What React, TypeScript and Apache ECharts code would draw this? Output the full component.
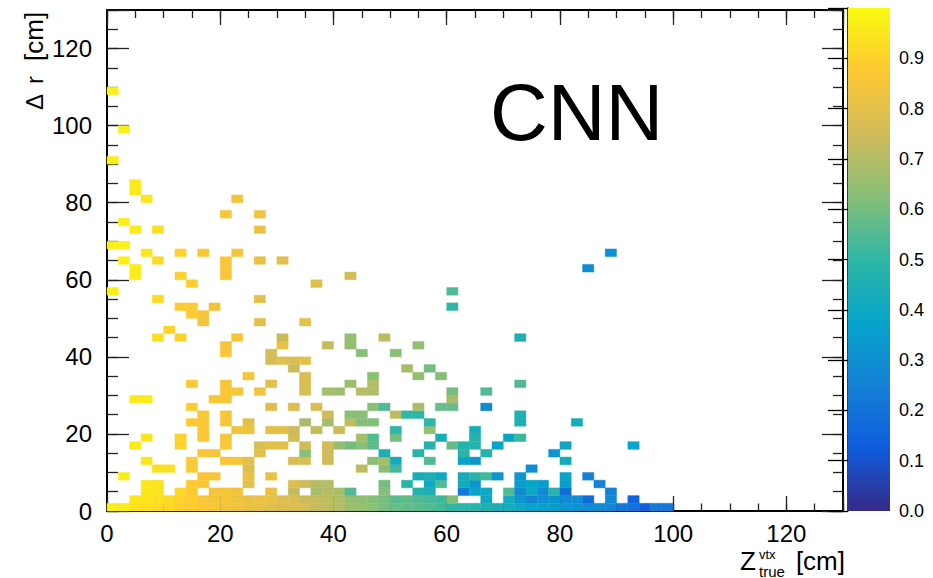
import React, { useEffect, useRef } from 'react';
import * as echarts from 'echarts';

// bin size in cm (both axes)
const binWidth = 2;
const axisMax = 130;
const majorStep = 20;
const minorStep = 5;
const colorTickStep = 0.1;

// ROOT kBird palette, value 0 -> 1
const palette = ['#352a87', '#0f5cdd', '#1481d6', '#06a4ca', '#2eb7a4', '#87bf77', '#d1bb59', '#fec832', '#f9fb0e'];

// rows of the 2D histogram: index = Δr bin (2 cm each); "zBin:value(×100)"
const rows: string[] = [
  '0:97 1:96 2:94 3:93 4:92 5:91 6:89 7:88 8:87 9:86 10:84 11:83 12:82 13:81 14:79 15:78 16:77 17:76 18:73 19:72 20:70 21:66 22:65 23:63 24:60 25:58 26:57 27:56 28:55 29:53 30:50 31:49 32:48 33:46 34:44 35:42 36:40 37:38 38:36 39:35 40:32 41:30 42:29 43:28 44:27 45:22 46:20 47:14 48:22 49:22',
  '2:95 3:95 4:93 5:92 6:90 7:89 8:86 9:85 10:85 11:83 12:82 13:82 14:81 15:78 16:78 17:74 18:73 19:72 20:70 21:65 22:64 23:62 24:60 25:56 26:57 27:55 28:54 29:52 30:62 33:40 35:42 36:32 37:25 38:30 39:32 40:28 41:30 42:18 44:28 46:15',
  '3:95 4:94 6:91 7:88 9:85 10:85 11:84 14:82 16:73 18:68 19:70 20:68 21:55 24:62 27:47 28:45 31:22 32:38 33:40 35:55 36:28 37:40 38:28 39:48 40:18 44:25',
  '3:95 4:94 7:88 8:87 12:80 16:78 17:74 18:70 19:70 24:60 26:48 28:40 29:55 31:42 32:32 36:35 37:38 38:35 40:35 43:25',
  '1:96 8:86 9:85 12:82 14:82 27:43 28:45 29:40 31:43 32:48 33:53 34:32 36:32 40:38 42:25',
  '4:93 5:93 7:88 12:78 22:72 24:63 25:53 37:30',
  '3:95 7:88 10:86 11:85 12:80 16:77 17:77 19:75 23:63 24:68 25:42 28:55 31:38 32:33 40:42',
  '8:86 9:85 13:80 17:63 19:75 24:45 27:48 31:48 33:47 39:32',
  '2:96 6:90 10:86 13:77 14:80 15:80 17:75 19:75 20:65 21:60 22:63 23:57 28:47 30:58 31:47 32:47 34:38 40:40 46:38',
  '3:95 6:90 8:87 10:85 16:76 22:68 23:55 25:60 29:43 32:47 35:38 36:52',
  '8:87 11:84 12:84 14:80 15:80 16:74 18:73 20:74 25:50 28:65 32:43',
  '7:88 8:87 10:86 12:80 17:68 19:67 21:72 22:62 23:62 28:50 36:45 41:42',
  '8:87 10:85 19:75 21:63 22:63 25:72 26:50 27:50 36:45',
  '7:88 14:78 16:78 18:77 23:63 24:55 27:68 29:58 30:58 33:28',
  '2:96 3:96 9:86 10:86 30:68',
  '10:86 11:86 13:84 17:77 19:67 20:67 22:70 23:70 30:60 33:55',
  '7:87 10:85 14:80 17:77 21:66 23:70 36:55',
  '12:85 17:77 23:63 27:65 29:62',
  '16:74 26:68 28:60',
  '14:76 15:79 16:77 17:80',
  '10:86 14:76 22:63 25:63',
  '10:85 15:82 19:73 21:65 27:65',
  '4:93 6:90 11:86 15:74 21:65 24:72 36:45',
  '5:90',
  '8:85 13:80 17:80',
  '7:88 8:85',
  '6:88 7:88 9:84 30:50',
  '4:92 13:80',
  '0:97 30:55',
  '7:89 18:79',
  '2:96 6:90 10:86 21:76',
  '2:96 10:86 42:30',
  '1:97 4:92 10:86 13:82 15:79',
  '3:95 6:90 8:87 11:85 44:30',
  '0:97 1:97',
  '',
  '2:96 4:93 13:82',
  '1:97',
  '10:86 13:84',
  '',
  '3:95 11:85',
  '2:96',
  '2:96',
  '',
  '',
  '0:97',
  '',
  '',
  '',
  '1:97',
  '',
  '',
  '',
  '',
  '0:97',
];

const FONT = '"Liberation Sans", Arial, Helvetica, sans-serif';

function buildCells(): number[][] {
  const out: number[][] = [];
  rows.forEach((row, j) => {
    row.split(' ').filter(Boolean).forEach((tok) => {
      const [i, v] = tok.split(':').map(Number);
      out.push([i * binWidth, j * binWidth, v / 100]);
    });
  });
  return out;
}

export default function App() {
  const ref = useRef<HTMLDivElement>(null);
  useEffect(() => {
    if (!ref.current) return;
    const chart = echarts.init(ref.current, undefined, { renderer: 'svg' });
    const cells = buildCells();
    const black = '#000';
    const hide130 = (v: number) => (v >= axisMax ? '' : String(v));
    const mkX = (pos: 'bottom' | 'top', interval: number, len: number, main: boolean, labels: boolean) => ({
      type: 'value', gridIndex: 0, position: pos, min: 0, max: axisMax, interval,
      axisLine: { show: main, onZero: false, lineStyle: { color: black, width: 2 } },
      axisTick: { show: true, inside: true, length: len, lineStyle: { color: '#222', width: 1.3 } },
      axisLabel: labels ? { show: true, color: black, fontSize: 24, fontFamily: FONT, margin: 10, formatter: hide130 } : { show: false },
      splitLine: { show: false },
    });
    const mkY = (pos: 'left' | 'right', interval: number, len: number, main: boolean, labels: boolean) => ({
      type: 'value', gridIndex: 0, position: pos, min: 0, max: axisMax, interval,
      axisLine: { show: main, onZero: false, lineStyle: { color: black, width: 2 } },
      axisTick: { show: true, inside: true, length: len, lineStyle: { color: '#222', width: 1.3 } },
      axisLabel: labels ? { show: true, color: black, fontSize: 24, fontFamily: FONT, margin: 15, formatter: hide130 } : { show: false },
      splitLine: { show: false },
    });

    chart.setOption({
      animation: false,
      backgroundColor: '#fff',
      grid: [
        { left: 107, top: 10, width: 736, height: 501 },
        { left: 848, top: 8, width: 42, height: 503 },
      ],
      xAxis: [
        mkX('bottom', majorStep, 15, true, true),
        mkX('bottom', minorStep, 7.5, false, false),
        mkX('top', majorStep, 15, true, false),
        mkX('top', minorStep, 8, false, false),
        { type: 'value', gridIndex: 1, min: 0, max: 1, show: false },
      ],
      yAxis: [
        mkY('left', majorStep, 22, true, true),
        mkY('left', minorStep, 11, false, false),
        mkY('right', majorStep, 21, true, false),
        mkY('right', minorStep, 10, false, false),
        {
          type: 'value', gridIndex: 1, position: 'right', min: 0, max: 1, interval: colorTickStep,
          axisLine: { show: true, lineStyle: { color: black, width: 1.5 } },
          axisTick: { show: true, inside: true, length: 20, lineStyle: { color: black, width: 1.3 } },
          axisLabel: { color: black, fontSize: 18, fontFamily: FONT, margin: 9,
            formatter: (v: number) => (v >= 1 ? '' : v.toFixed(1)) },
          splitLine: { show: false },
        },
      ],
      visualMap: {
        show: false, type: 'continuous', min: 0, max: 1, dimension: 2, seriesIndex: 0,
        inRange: { color: palette },
      },
      series: [
        {
          type: 'custom', xAxisIndex: 0, yAxisIndex: 0,
          data: cells,
          encode: { x: 0, y: 1 },
          renderItem: (_p: any, api: any) => {
            const x0 = api.value(0);
            const y0 = api.value(1);
            const a = api.coord([x0, y0 + binWidth]);
            const b = api.coord([x0 + binWidth, y0]);
            const c = api.visual('color');
            return {
              type: 'rect',
              shape: { x: a[0], y: a[1], width: b[0] - a[0], height: b[1] - a[1] },
              style: { fill: c, stroke: c, lineWidth: 0.4 },
            };
          },
        },
        {
          type: 'custom', xAxisIndex: 4, yAxisIndex: 4,
          data: [[0, 0]],
          silent: true,
          renderItem: (_p: any, api: any) => {
            const a = api.coord([0, 1]);
            const b = api.coord([1, 0]);
            return {
              type: 'rect',
              shape: { x: a[0], y: a[1], width: b[0] - a[0], height: b[1] - a[1] },
              style: {
                fill: new echarts.graphic.LinearGradient(0, 1, 0, 0,
                  palette.map((c, k) => ({ offset: k / (palette.length - 1), color: c }))),
              },
            };
          },
        },
      ],
      graphic: [
        { type: 'text', left: 490, top: 72, style: { text: 'CNN', fontSize: 80, fontFamily: FONT, fill: black, textVerticalAlign: 'top' }, z: 10 },
        // y title
        { type: 'text', x: 34, y: 110, rotation: Math.PI / 2, style: { text: 'Δ', fontSize: 24, fontFamily: FONT, fill: black, textAlign: 'left', textVerticalAlign: 'middle' } },
        { type: 'text', x: 34, y: 84, rotation: Math.PI / 2, style: { text: 'r', fontSize: 24, fontFamily: FONT, fill: black, textAlign: 'left', textVerticalAlign: 'middle' } },
        { type: 'text', x: 34, y: 61, rotation: Math.PI / 2, style: { text: '[cm]', fontSize: 26, fontFamily: FONT, fill: black, textAlign: 'left', textVerticalAlign: 'middle' } },
        // x title
        { type: 'text', x: 740, y: 561, style: { text: 'Z', fontSize: 26, fontFamily: FONT, fill: black, textAlign: 'left', textVerticalAlign: 'middle' } },
        { type: 'text', x: 759, y: 554, style: { text: 'vtx', fontSize: 13, fontFamily: FONT, fill: black, textAlign: 'left', textVerticalAlign: 'middle' } },
        { type: 'text', x: 759, y: 571, style: { text: 'true', fontSize: 15, fontFamily: FONT, fill: black, textAlign: 'left', textVerticalAlign: 'middle' } },
        { type: 'text', x: 845, y: 561, style: { text: '[cm]', fontSize: 26, fontFamily: FONT, fill: black, textAlign: 'right', textVerticalAlign: 'middle' } },
      ],
    });
    return () => chart.dispose();
  }, []);
  return <div ref={ref} style={{ position: 'fixed', left: 0, top: 0, width: 933, height: 578, background: '#fff' }} />;
}
